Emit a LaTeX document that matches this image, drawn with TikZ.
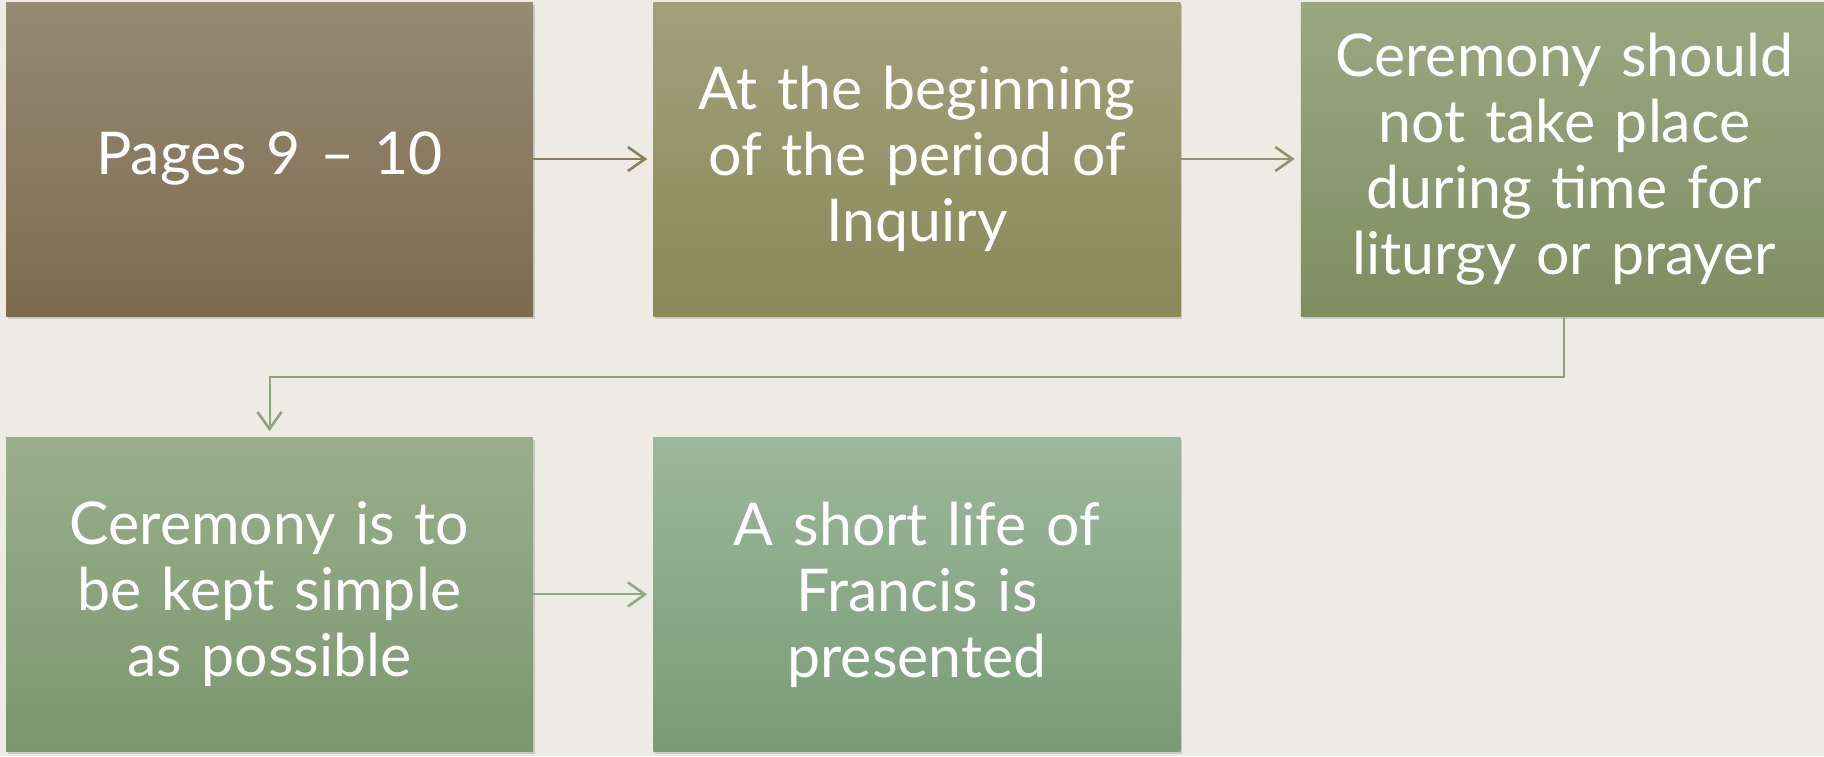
\documentclass[tikz,border=0pt]{standalone}
\usepackage{fontspec}
\setmainfont{Lato}
\usetikzlibrary{positioning, arrows.meta, shadows}
\definecolor{bgcol}{HTML}{EEEBE4}
\definecolor{pagestop}{HTML}{968A74}
\definecolor{pagesbot}{HTML}{7D6B4F}
\definecolor{begintop}{HTML}{A1A07B}
\definecolor{beginbot}{HTML}{8A895A}
\definecolor{timetop}{HTML}{9AA882}
\definecolor{timebot}{HTML}{7E8E61}
\definecolor{simpletop}{HTML}{9AAE8D}
\definecolor{simplebot}{HTML}{7B976F}
\definecolor{francistop}{HTML}{9DB79B}
\definecolor{francisbot}{HTML}{799B77}
\definecolor{linkbrown}{HTML}{8A7E5E}
\definecolor{linkolive}{HTML}{8F9470}
\definecolor{linkgreen}{HTML}{8EA47F}
\definecolor{linksage}{HTML}{8EA888}
\tikzset{
  stagebox/.style={rectangle, minimum width=527pt, minimum height=314pt,
    inner sep=0pt, text=white, align=center, text width=520pt,
    font=\fontsize{59}{66}\selectfont,
    drop shadow={shadow xshift=2pt, shadow yshift=-3pt, opacity=0.25, fill=black!60}},
  link/.style={line width=2pt, shorten >=6pt,
    -{Straight Barb[length=17pt, width=24pt, line width=2.6pt]}}
}
\begin{document}
\begin{tikzpicture}
  \useasboundingbox[fill=bgcol] (0,0) rectangle (1824pt,-756pt);
  \clip (0,0) rectangle (1824pt,-756pt);
  % first row
  \node[stagebox, top color=pagestop, bottom color=pagesbot] (pages) at (269.5pt,-159pt) {Pages 9 -- 10};
  \node[stagebox, right=120pt of pages, top color=begintop, bottom color=beginbot] (begin) {At the beginning\\of the period of\\Inquiry};
  \node[stagebox, right=120pt of begin, top color=timetop, bottom color=timebot] (time) {Ceremony should\\not take place\\during time for\\liturgy or prayer};
  % second row
  \node[stagebox, below=121pt of pages, top color=simpletop, bottom color=simplebot] (simple) {Ceremony is to\\be kept simple\\as possible};
  \node[stagebox, right=120pt of simple, top color=francistop, bottom color=francisbot] (francis) {A short life of\\Francis is\\presented};
  % connectors
  \draw[link, linkbrown] (pages) -- (begin);
  \draw[link, linkolive] (begin) -- (time);
  \draw[link, linkgreen] (time.south) -- ++(0,-61pt) -| (simple.north);
  \draw[link, linksage] (simple) -- (francis);
\end{tikzpicture}
\end{document}
